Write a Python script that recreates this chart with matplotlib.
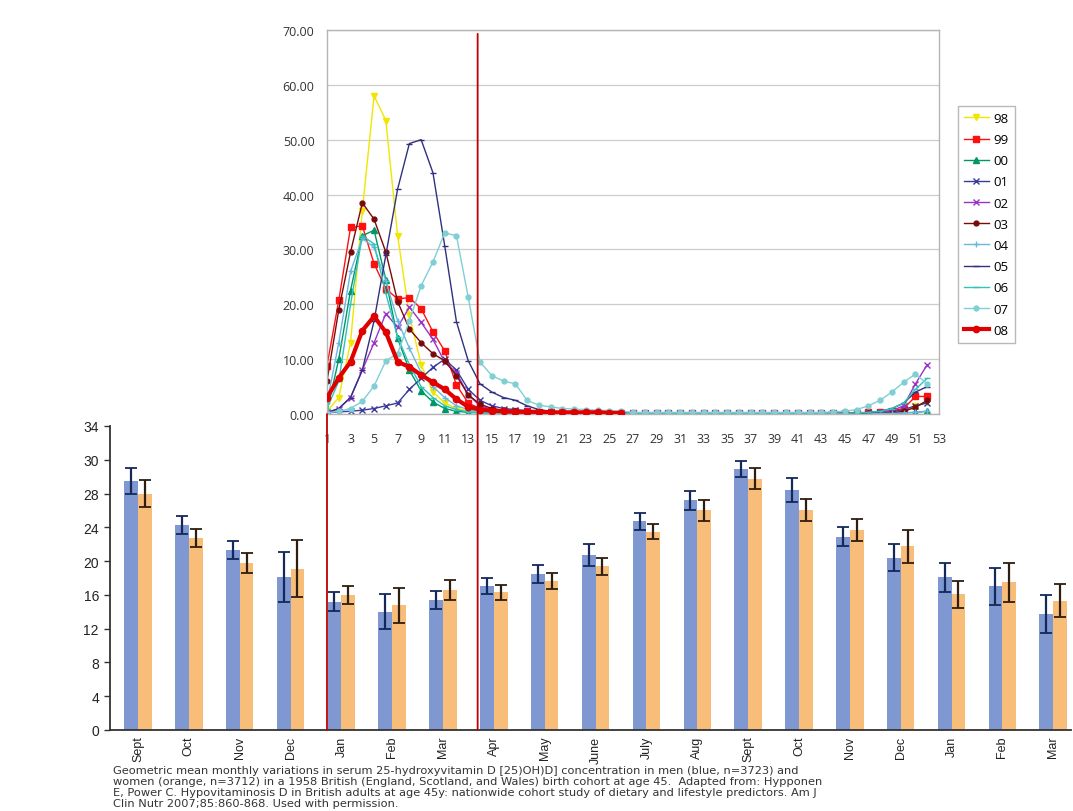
import numpy as np
import matplotlib
matplotlib.use("Agg")
import matplotlib.pyplot as plt
import matplotlib.transforms as mtransforms
from matplotlib.patches import ConnectionPatch

# ---- weekly series (top chart), weeks 1..52 ----
s98 = [0.5, 3.0, 13.0, 37.0, 58.0, 53.5, 32.5, 18.0, 9.0, 4.0,
       2.0, 1.0, 0.6, 0.4, 0.3, 0.3, 0.2, 0.2, 0.2, 0.1,
       0.1, 0.1, 0.1, 0.1, 0.1, 0.1, 0.0, 0.0, 0.0, 0.0,
       0.0, 0.0, 0.0, 0.0, 0.0, 0.0, 0.0, 0.0, 0.0, 0.0,
       0.0, 0.0, 0.0, 0.0, 0.0, 0.0, 0.0, 0.1, 0.2, 0.4,
       1.5, 2.2]
s99 = [8.8, 20.7, 34.0, 34.3, 27.4, 22.8, 21.0, 21.2, 19.2, 15.0,
       11.5, 5.3, 2.0, 1.0, 0.7, 0.6, 0.5, 0.5, 0.4, 0.4,
       0.3, 0.3, 0.3, 0.2, 0.2, 0.2, 0.1, 0.1, 0.1, 0.1,
       0.1, 0.1, 0.1, 0.1, 0.1, 0.1, 0.1, 0.1, 0.1, 0.1,
       0.1, 0.1, 0.1, 0.1, 0.1, 0.2, 0.3, 0.4, 0.6, 1.0,
       3.2, 3.2]
s00 = [0.5, 10.0, 22.5, 32.5, 33.5, 24.5, 13.8, 8.0, 4.2, 2.2,
       1.0, 0.5, 0.3, 0.2, 0.1, 0.1, 0.1, 0.1, 0.0, 0.0,
       0.0, 0.0, 0.0, 0.0, 0.0, 0.0, 0.0, 0.0, 0.0, 0.0,
       0.0, 0.0, 0.0, 0.0, 0.0, 0.0, 0.0, 0.0, 0.0, 0.0,
       0.0, 0.0, 0.0, 0.0, 0.0, 0.0, 0.0, 0.0, 0.1, 0.2,
       0.3, 0.5]
s01 = [0.2, 0.4, 0.5, 0.7, 1.0, 1.5, 2.0, 4.5, 6.5, 8.5,
       10.0, 8.0, 4.5, 2.5, 1.5, 1.0, 0.8, 0.6, 0.4, 0.3,
       0.2, 0.2, 0.1, 0.1, 0.1, 0.1, 0.1, 0.1, 0.1, 0.1,
       0.1, 0.1, 0.1, 0.1, 0.1, 0.1, 0.1, 0.1, 0.1, 0.1,
       0.1, 0.1, 0.1, 0.1, 0.1, 0.1, 0.1, 0.2, 0.4, 0.8,
       1.5, 2.0]
s02 = [0.3, 1.0, 3.0, 8.0, 13.0, 18.3, 15.8, 19.5, 16.7, 13.6,
       9.5, 7.5, 3.5, 1.5, 0.8, 0.5, 0.4, 0.3, 0.2, 0.2,
       0.1, 0.1, 0.1, 0.1, 0.1, 0.1, 0.1, 0.1, 0.1, 0.1,
       0.1, 0.1, 0.1, 0.1, 0.1, 0.1, 0.1, 0.1, 0.1, 0.1,
       0.1, 0.1, 0.1, 0.1, 0.1, 0.1, 0.2, 0.3, 0.6, 1.5,
       5.5, 9.0]
s03 = [6.0, 19.0, 29.5, 38.5, 35.5, 29.5, 20.5, 15.5, 13.0, 11.0,
       9.7, 7.0, 3.5, 1.8, 1.0, 0.7, 0.5, 0.4, 0.3, 0.3,
       0.2, 0.2, 0.2, 0.1, 0.1, 0.1, 0.1, 0.1, 0.1, 0.1,
       0.1, 0.1, 0.1, 0.1, 0.1, 0.1, 0.1, 0.1, 0.1, 0.1,
       0.1, 0.1, 0.1, 0.1, 0.1, 0.1, 0.1, 0.1, 0.2, 0.5,
       1.2, 2.5]
s04 = [2.0, 13.0, 26.0, 32.0, 30.4, 24.3, 17.0, 12.0, 7.5, 5.0,
       3.0, 1.5, 0.8, 0.4, 0.3, 0.2, 0.2, 0.1, 0.1, 0.1,
       0.1, 0.1, 0.1, 0.1, 0.1, 0.1, 0.0, 0.0, 0.0, 0.0,
       0.0, 0.0, 0.0, 0.0, 0.0, 0.0, 0.0, 0.0, 0.0, 0.0,
       0.0, 0.0, 0.0, 0.0, 0.0, 0.0, 0.0, 0.1, 0.1, 0.2,
       0.3, 0.5]
s05 = [0.2, 1.0, 3.0, 8.0, 17.0, 29.0, 41.0, 49.3, 50.0, 44.0,
       30.7, 16.8, 9.7, 5.5, 4.0, 3.0, 2.5, 1.5, 0.8, 0.5,
       0.3, 0.3, 0.2, 0.2, 0.2, 0.2, 0.1, 0.1, 0.1, 0.1,
       0.1, 0.1, 0.1, 0.1, 0.1, 0.1, 0.1, 0.1, 0.1, 0.1,
       0.1, 0.1, 0.1, 0.1, 0.1, 0.1, 0.3, 0.5, 1.0, 2.0,
       4.0, 5.0]
s06 = [1.0, 6.0, 20.0, 32.5, 31.0, 22.0, 14.0, 9.0, 5.0, 3.0,
       1.5, 0.8, 0.4, 0.2, 0.1, 0.1, 0.1, 0.1, 0.1, 0.1,
       0.1, 0.1, 0.1, 0.1, 0.1, 0.1, 0.1, 0.1, 0.1, 0.1,
       0.1, 0.1, 0.1, 0.1, 0.1, 0.1, 0.1, 0.1, 0.1, 0.1,
       0.1, 0.1, 0.1, 0.1, 0.1, 0.2, 0.3, 0.5, 1.0, 2.0,
       4.5, 6.5]
s07 = [0.2, 0.5, 1.0, 2.3, 5.1, 9.7, 11.0, 17.0, 23.4, 27.7,
       33.0, 32.5, 21.3, 9.5, 7.0, 6.0, 5.5, 2.5, 1.6, 1.3,
       1.0, 0.9, 0.8, 0.7, 0.6, 0.5, 0.3, 0.3, 0.3, 0.3,
       0.3, 0.3, 0.3, 0.3, 0.3, 0.3, 0.3, 0.3, 0.3, 0.3,
       0.3, 0.3, 0.3, 0.4, 0.5, 0.8, 1.5, 2.5, 4.0, 5.8,
       7.3, 5.5]
s08 = [3.0, 6.6, 9.5, 15.2, 17.8, 14.9, 9.5, 8.6, 7.1, 5.8,
       4.5, 2.7, 1.3, 0.8, 0.6, 0.5, 0.4, 0.4, 0.4, 0.3,
       0.3, 0.3, 0.3, 0.3, 0.2, 0.2]

series_labels = ["98", "99", "00", "01", "02", "03", "04", "05", "06", "07", "08"]
series_values = [s98, s99, s00, s01, s02, s03, s04, s05, s06, s07, s08]
red_week = 13.8   # vertical marker between the two charts

# ---- monthly means (bottom chart) ----
months = ["Sept", "Oct", "Nov", "Dec", "Jan", "Feb", "Mar", "Apr", "May", "June",
          "July", "Aug", "Sept", "Oct", "Nov", "Dec", "Jan", "Feb", "Mar"]
men = [29.5, 24.3, 21.3, 18.1, 15.2, 14.0, 15.4, 17.0, 18.5, 20.7,
       24.7, 27.2, 30.9, 28.4, 22.9, 20.4, 18.1, 17.0, 13.7]
men_err = [1.5, 1.05, 1.1, 3.0, 1.1, 2.05, 1.1, 0.95, 1.05, 1.3,
           1.0, 1.1, 0.95, 1.45, 1.1, 1.6, 1.7, 2.2, 2.25]
women = [28.0, 22.7, 19.8, 19.1, 16.0, 14.75, 16.6, 16.3, 17.6, 19.4,
         23.5, 26.0, 29.75, 26.0, 23.7, 21.75, 16.1, 17.5, 15.3]
women_err = [1.65, 1.05, 1.15, 3.4, 1.05, 2.1, 1.15, 0.9, 0.95, 1.0,
             0.85, 1.2, 1.25, 1.3, 1.3, 1.95, 1.6, 2.3, 1.95]
bar_ytick_labels = ["0", "4", "8", "12", "16", "20", "24", "28", "30", "34"]

caption = [
    "Geometric mean monthly variations in serum 25-hydroxyvitamin D [25)OH)D] concentration in men (blue, n=3723) and",
    "women (orange, n=3712) in a 1958 British (England, Scotland, and Wales) birth cohort at age 45.  Adapted from: Hypponen",
    "E, Power C. Hypovitaminosis D in British adults at age 45y: nationwide cohort study of dietary and lifestyle predictors. Am J",
    "Clin Nutr 2007;85:860-868. Used with permission.",
]

# line styles per series
styles = {
    "98": dict(color="#f2e600", marker="v", ms=4),
    "99": dict(color="#ff1010", marker="s", ms=4.5),
    "00": dict(color="#00966a", marker="^", ms=4),
    "01": dict(color="#3a3a9a", marker="x", ms=4),
    "02": dict(color="#9a33c8", marker="x", ms=4),
    "03": dict(color="#7a0a0a", marker="o", ms=3.5),
    "04": dict(color="#6ab8e0", marker="+", ms=5),
    "05": dict(color="#30307f", marker="_", ms=4),
    "06": dict(color="#2ec4b8", marker="_", ms=4),
    "07": dict(color="#7fcfd4", marker="o", ms=3.5),
    "08": dict(color="#e00000", marker="o", ms=4.5, lw=3),
}

W, H = 1073, 812


def px_box(l, t, r, b):
    return [l / W, 1 - b / H, (r - l) / W, (b - t) / H]


fig = plt.figure(figsize=(W / 100, H / 100), dpi=100)
fig.patch.set_facecolor("white")

#%% bottom bar chart
ax_bar = fig.add_axes(px_box(110, 427, 1071, 731))
x = np.arange(len(months))
bw = 0.27
ax_bar.bar(x - bw / 2, men, bw, color="#7f98d2", yerr=men_err,
           error_kw=dict(ecolor="#14285a", elinewidth=1.6, capsize=4, capthick=1.3))
ax_bar.bar(x + bw / 2, women, bw, color="#f9bd7a", yerr=women_err,
           error_kw=dict(ecolor="#2e1e10", elinewidth=1.6, capsize=4, capthick=1.3))
ax_bar.set_xlim(-0.55, 18.35)
ax_bar.set_ylim(0, 36)
ax_bar.set_yticks(np.arange(0, 37, 4))
ax_bar.set_yticklabels(bar_ytick_labels, family="Liberation Sans", fontsize=10, color="#222222")
ax_bar.set_xticks(x)
ax_bar.set_xticklabels(months, rotation=90, family="Liberation Sans", fontsize=9, color="#222222")
ax_bar.tick_params(axis="y", direction="out", length=4, width=1, color="#333333", pad=4)
ax_bar.tick_params(axis="x", length=0, pad=4)
for side in ("top", "right"):
    ax_bar.spines[side].set_visible(False)
for side in ("left", "bottom"):
    ax_bar.spines[side].set_color("#333333")
    ax_bar.spines[side].set_linewidth(1.3)

#%% top weekly line chart
ax_top = fig.add_axes(px_box(327, 31, 939, 415))
ax_top.set_facecolor("white")
handles = []
for lab, vals in zip(series_labels, series_values):
    st = dict(styles[lab])
    lw = st.pop("lw", 1.0)
    wk = np.arange(1, len(vals) + 1)
    h, = ax_top.plot(wk, vals, lw=lw, markeredgewidth=1, zorder=3 if lab == "08" else 2, **st)
    handles.append(h)
ax_top.set_xlim(1, 53)
ax_top.set_ylim(0, 70)
ax_top.set_yticks(np.arange(0, 71, 10))
ax_top.set_yticklabels([f"{v:.2f}" for v in np.arange(0, 71, 10)],
                       family="Open Sans", fontsize=9, color="#333333")
ax_top.set_xticks(np.arange(1, 54, 2))
ax_top.set_xticklabels([str(v) for v in np.arange(1, 54, 2)],
                       family="Open Sans", fontsize=9, color="#333333")
ax_top.tick_params(axis="y", length=0, pad=9)
ax_top.tick_params(axis="x", length=0, pad=13)
ax_top.grid(axis="y", color="#cccccc", lw=0.9)
ax_top.set_axisbelow(True)
for sp in ax_top.spines.values():
    sp.set_color("#b4b4b4")
    sp.set_linewidth(1.0)

fig.legend(handles, series_labels, loc="upper left", bbox_to_anchor=(958 / W, 1 - 107 / H),
           frameon=True, fancybox=False, edgecolor="#a8a8a8",
           prop=dict(family="Open Sans", size=9.5), handlelength=1.9,
           labelspacing=0.62, borderpad=0.45, handletextpad=0.35, borderaxespad=0)

#%% red marker lines linking the two charts
blend = mtransforms.blended_transform_factory(ax_top.transData, ax_bar.transData)
for wk, ytop in ((1, 0), (red_week, 69.3)):
    con = ConnectionPatch(xyA=(wk, ytop), coordsA=ax_top.transData,
                          xyB=(wk, 0), coordsB=blend, color="#c00000", lw=1.3, zorder=5)
    fig.add_artist(con)

#%% caption
for i, line in enumerate(caption):
    fig.text(113 / W, 1 - (771 + i * 11.0) / H, line, family="DejaVu Sans",
             fontsize=8.2, color="#333333", va="center", ha="left")

fig.savefig("out.png", dpi=100)
